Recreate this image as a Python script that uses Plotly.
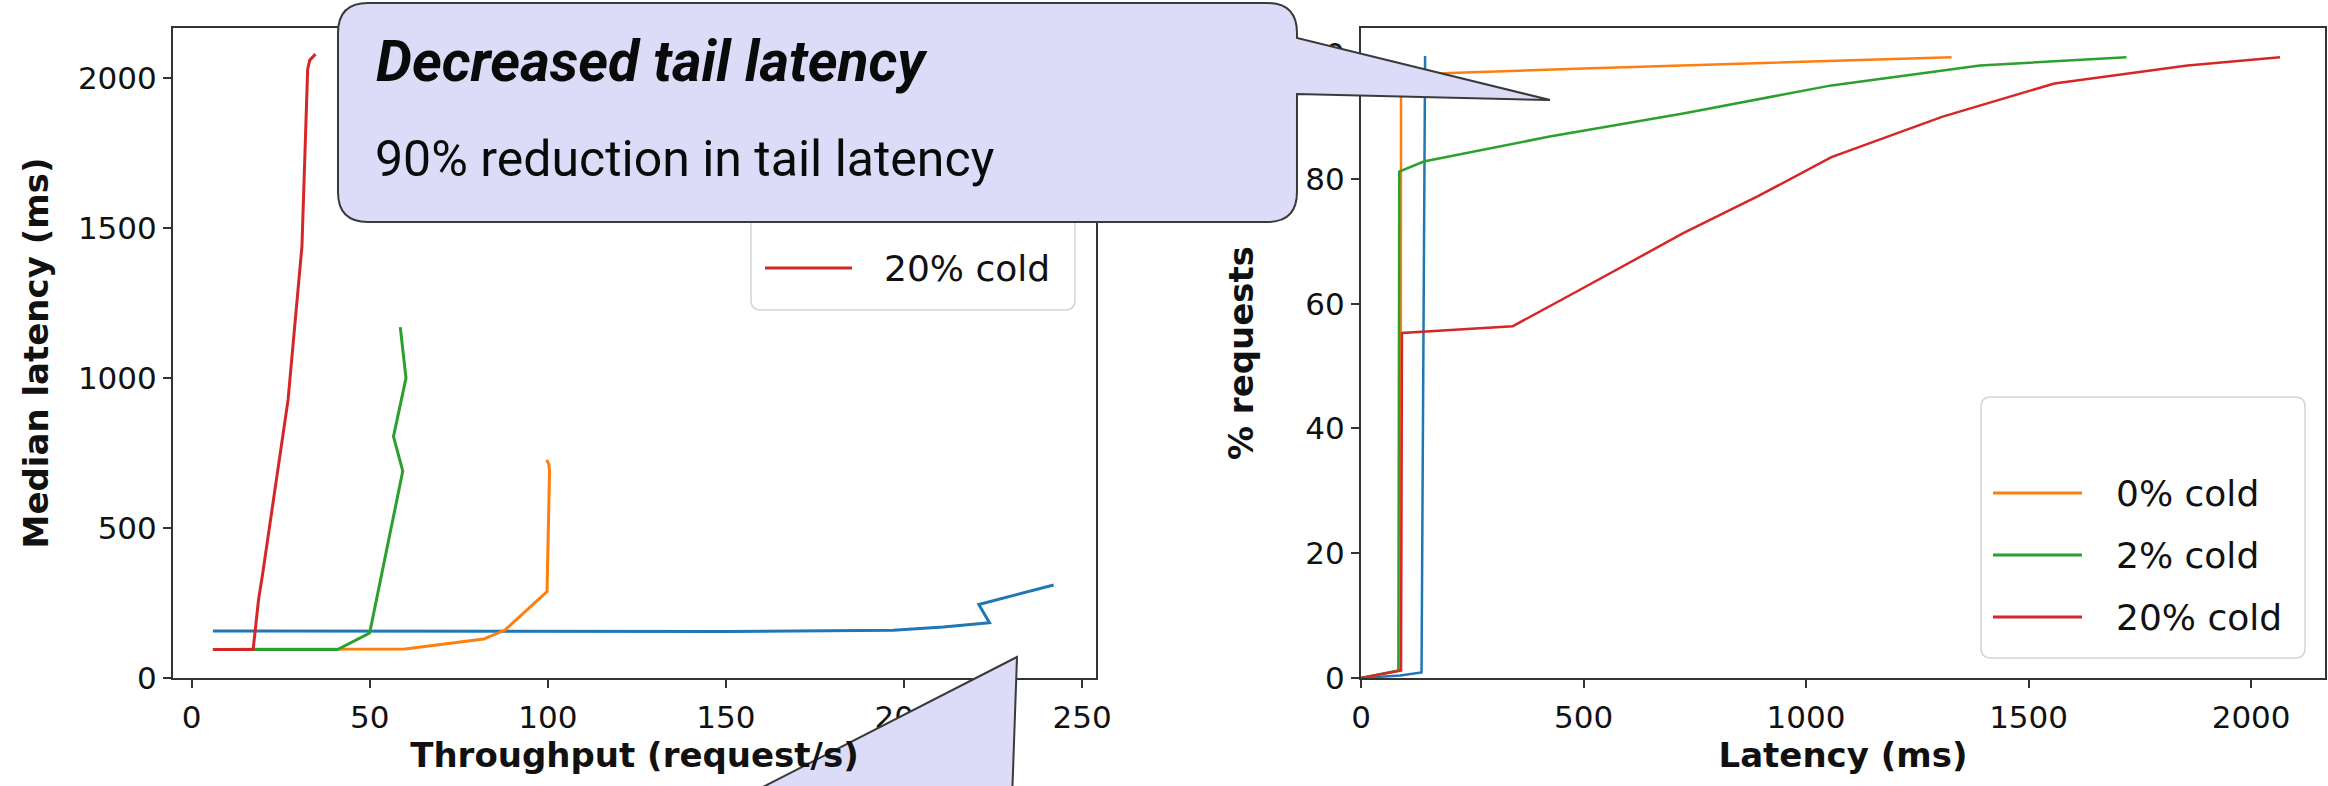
import plotly.graph_objects as go

W, H = 2328, 786

# ---------------- data ----------------
series_names = ["", "0% cold", "2% cold", "20% cold"]
series_colors = ["#1f77b4", "#ff7f0e", "#2ca02c", "#d62728"]

# Left panel: median latency (ms) vs throughput (request/s)
tp_blue = [6, 50, 100, 150, 197, 211, 224, 221, 242]
lat_blue = [157, 156, 155, 155, 159, 170, 184, 245, 310]

tp_orange = [6, 41, 60, 82, 88, 99.8, 100.5, 100.3, 99.7]
lat_orange = [95, 95, 97, 130, 160, 288, 690, 712, 727]

tp_green = [6, 41, 50, 59.3, 56.7, 60.2, 58.6]
lat_green = [95, 95, 150, 690, 805, 1000, 1170]

tp_red = [6, 17.3, 18.8, 20, 27.1, 31.0, 32.6, 33.2, 34.8]
lat_red = [95, 95, 260, 350, 927, 1440, 2030, 2060, 2080]

# Right panel: CDF, % requests vs latency (ms)
cdf_lat_blue = [0, 88, 136, 144]
cdf_pct_blue = [0, 0.4, 0.9, 99.7]

cdf_lat_orange = [0, 89, 90, 200, 500, 724, 1000, 1327]
cdf_pct_orange = [0, 1.2, 96.6, 97.0, 97.7, 98.2, 98.8, 99.5]

cdf_lat_green = [0, 84, 86, 141, 424, 724, 1057, 1391, 1720]
cdf_pct_green = [0, 1.2, 81.2, 82.8, 86.8, 90.5, 95.0, 98.2, 99.5]

cdf_lat_red = [0, 90, 92, 341, 491, 724, 891, 1057, 1307, 1558, 1857, 2065]
cdf_pct_red = [0, 1.2, 55.3, 56.4, 62.2, 71.3, 77.2, 83.5, 90.0, 95.3, 98.2, 99.5]

left_xticks = [0, 50, 100, 150, 200, 250]
left_yticks = [0, 500, 1000, 1500, 2000]
right_xticks = [0, 500, 1000, 1500, 2000]
right_yticks = [0, 20, 40, 60, 80, 100]

callout_title = "Decreased tail latency"
callout_body = "90% reduction in tail latency"

# ---------------- layout geometry (pixels) ----------------
ML, MR, MT, MB = 173, 3, 28, 108          # plot region = union of both panels
IW, IH = W - ML - MR, H - MT - MB


def px(x):
    """pixel x -> paper x"""
    return (x - ML) / IW


def py(y):
    """pixel y (from top) -> paper y"""
    return (H - MB - y) / IH


def path_from(cmds):
    out = []
    for letter, pts in cmds:
        if letter == "Z":
            out.append("Z")
            continue
        coords = " ".join(f"{px(a):.5f},{py(b):.5f}" for a, b in pts)
        out.append(f"{letter} {coords}")
    return " ".join(out)


def rounded_rect(x0, y0, x1, y1, r):
    return path_from([
        ("M", [(x0 + r, y0)]), ("L", [(x1 - r, y0)]), ("Q", [(x1, y0), (x1, y0 + r)]),
        ("L", [(x1, y1 - r)]), ("Q", [(x1, y1), (x1 - r, y1)]),
        ("L", [(x0 + r, y1)]), ("Q", [(x0, y1), (x0, y1 - r)]),
        ("L", [(x0, y0 + r)]), ("Q", [(x0, y0), (x0 + r, y0)]), ("Z", []),
    ])


TICK_FONT = dict(family="DejaVu Sans", size=31, color="#111111")
TITLE_FONT = dict(family="DejaVu Sans", size=34, color="#111111", weight="bold")
LEGEND_FONT = dict(family="DejaVu Sans", size=36, color="#111111")
LW_LEFT = 3.0
LW_RIGHT = 2.5

fig = go.Figure()

left_series = [(tp_blue, lat_blue), (tp_orange, lat_orange), (tp_green, lat_green), (tp_red, lat_red)]
for (xs, ys), name, col in zip(left_series, series_names, series_colors):
    fig.add_trace(go.Scatter(x=xs, y=ys, mode="lines", name=name or "baseline",
                             line=dict(color=col, width=LW_LEFT), showlegend=False,
                             xaxis="x", yaxis="y"))

right_series = [(cdf_lat_blue, cdf_pct_blue), (cdf_lat_orange, cdf_pct_orange),
                (cdf_lat_green, cdf_pct_green), (cdf_lat_red, cdf_pct_red)]
for (xs, ys), name, col in zip(right_series, series_names, series_colors):
    fig.add_trace(go.Scatter(x=xs, y=ys, mode="lines", name=name or "baseline",
                             line=dict(color=col, width=LW_RIGHT), showlegend=False,
                             xaxis="x2", yaxis="y2"))

# ---------------- callout geometry ----------------
CALLOUT_BOX = (338, 3, 1297, 222)   # x0, y0, x1, y1 of the speech bubble body
CALLOUT_TIP = (1550, 100)
TAIL_TOP, TAIL_BOTTOM = 38, 94
CORNER = 30

# ---------------- custom legends (matplotlib style) ----------------
ROW_STEP = 62
legend_specs = [
    dict(box=(751, 48, 1075, 310), row0=82, sample=(765, 852), text_x=882),
    dict(box=(1981, 397, 2305, 658), row0=431, sample=(1993, 2082), text_x=2114),
]
shapes = []
annotations = []
for spec in legend_specs:
    bx0, by0, bx1, by1 = spec["box"]
    shapes.append(dict(type="path", path=rounded_rect(bx0, by0, bx1, by1, 10), xref="paper", yref="paper",
                       fillcolor="rgba(255,255,255,0.85)", line=dict(color="#d4d4d4", width=1.5), layer="below"))
    for i, (name, col) in enumerate(zip(series_names, series_colors)):
        ry = spec["row0"] + i * ROW_STEP
        if not name:
            continue
        # entries fully hidden behind the speech bubble are not visible in the picture
        if CALLOUT_BOX[0] < bx0 < CALLOUT_BOX[2] and ry < CALLOUT_BOX[3]:
            continue
        sx0, sx1 = spec["sample"]
        shapes.append(dict(type="line", xref="paper", yref="paper", x0=px(sx0), x1=px(sx1), y0=py(ry), y1=py(ry),
                           line=dict(color=col, width=3), layer="below"))
        annotations.append(dict(text=name, x=px(spec["text_x"]), y=py(ry), xref="paper", yref="paper",
                                xanchor="left", yanchor="middle", showarrow=False, font=LEGEND_FONT))

# ---------------- callouts ----------------
CALLOUT_FILL = "#dddcf8"
CALLOUT_LINE = dict(color="#3a3a3a", width=2)
cx0, cy0, cx1, cy1 = CALLOUT_BOX
r = CORNER
top_callout = path_from([
    ("M", [(cx0 + r, cy0)]), ("L", [(cx1 - r, cy0)]), ("Q", [(cx1, cy0), (cx1, cy0 + r)]),
    ("L", [(cx1, TAIL_TOP)]), ("L", [CALLOUT_TIP]), ("L", [(cx1, TAIL_BOTTOM)]),
    ("L", [(cx1, cy1 - r)]), ("Q", [(cx1, cy1), (cx1 - r, cy1)]),
    ("L", [(cx0 + r, cy1)]), ("Q", [(cx0, cy1), (cx0, cy1 - r)]),
    ("L", [(cx0, cy0 + r)]), ("Q", [(cx0, cy0), (cx0 + r, cy0)]), ("Z", []),
])
bottom_tail = path_from([("M", [(1017, 657)]), ("L", [(1012, 800)]), ("L", [(757, 790)]), ("Z", [])])
for p in (top_callout, bottom_tail):
    shapes.append(dict(type="path", path=p, xref="paper", yref="paper", fillcolor=CALLOUT_FILL,
                       line=CALLOUT_LINE, layer="above"))

annotations += [
    dict(text=f"<b><i>{callout_title}</i></b>", x=px(374), y=py(61), xref="paper", yref="paper",
         xanchor="left", yanchor="middle", showarrow=False,
         font=dict(family="Roboto", size=57, color="#0a0a0a")),
    dict(text=callout_body, x=px(373), y=py(159), xref="paper", yref="paper",
         xanchor="left", yanchor="middle", showarrow=False,
         font=dict(family="Roboto", size=50, color="#0a0a0a")),
]

axis_common = dict(showline=True, linecolor="#333333", linewidth=2, mirror=True,
                   ticks="outside", ticklen=8, tickwidth=2, tickcolor="#333333",
                   showgrid=False, zeroline=False, tickfont=TICK_FONT)

fig.update_layout(
    width=W, height=H, autosize=False,
    margin=dict(l=ML, r=MR, t=MT, b=MB, autoexpand=False),
    paper_bgcolor="white", plot_bgcolor="rgba(0,0,0,0)",
    showlegend=False,
    xaxis=dict(domain=[px(173), px(1096)], range=[-5.2, 253.9], tickvals=left_xticks,
               ticklabelstandoff=3,
               title=dict(text="Throughput (request/s)", font=TITLE_FONT, standoff=5),
               anchor="y", **axis_common),
    yaxis=dict(domain=[py(678), py(28)], range=[0, 2167], tickvals=left_yticks,
               title=dict(text="Median latency (ms)", font=TITLE_FONT, standoff=19),
               anchor="x", **axis_common),
    xaxis2=dict(domain=[px(1361), px(2325)], range=[0, 2166], tickvals=right_xticks,
                ticklabelstandoff=3,
                title=dict(text="Latency (ms)", font=TITLE_FONT, standoff=5),
                anchor="y2", **axis_common),
    yaxis2=dict(domain=[py(678), py(28)], range=[0, 104.2], tickvals=right_yticks,
                title=dict(text="% requests", font=TITLE_FONT, standoff=22),
                anchor="x2", **axis_common),
    shapes=shapes,
    annotations=annotations,
)

fig.write_html("out.html")
